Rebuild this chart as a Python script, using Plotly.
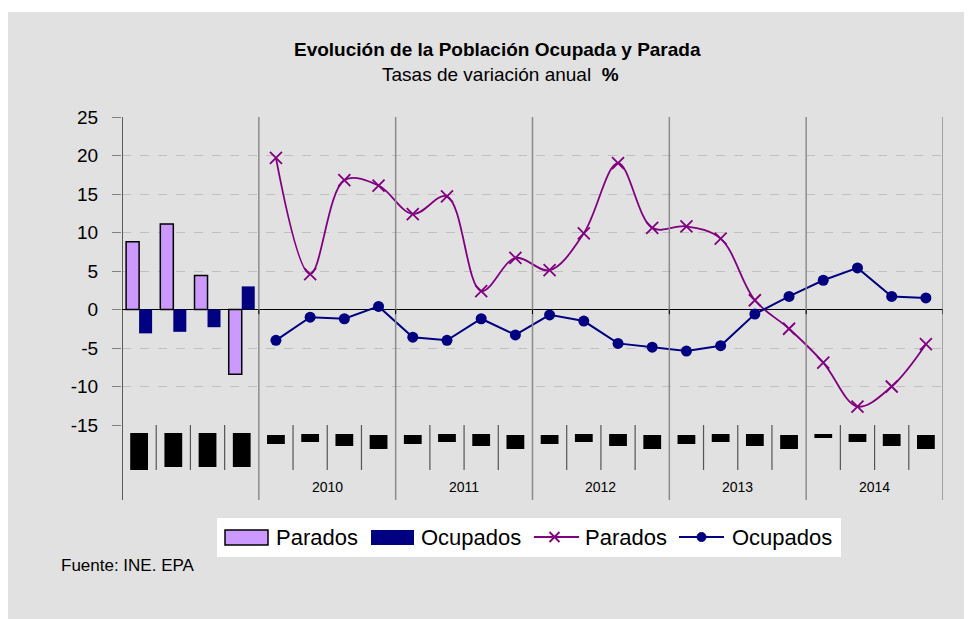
import plotly.graph_objects as go

# quarters: 2009 (bars) + 2010-2014 (lines)
years = ["2009", "2010", "2011", "2012", "2013", "2014"]
quarters = ["I", "II", "III", "IV"]

# 2009 - bars
bar_parados = [8.8, 11.1, 4.4, -8.4]
bar_ocupados = [-3.1, -2.9, -2.3, 3.0]

# 2010-2014 - lines
line_parados = [19.7, 4.6, 16.8, 16.1,
                12.4, 14.7, 2.4, 6.7,
                5.1, 9.9, 19.0, 10.6,
                10.8, 9.2, 1.2, -2.5,
                -6.9, -12.6, -10.0, -4.5]
line_ocupados = [-4.0, -1.0, -1.2, 0.4,
                 -3.6, -4.0, -1.2, -3.3,
                 -0.7, -1.5, -4.4, -4.9,
                 -5.4, -4.7, -0.6, 1.7,
                 3.8, 5.4, 1.7, 1.5]

y_ticks = [-15, -10, -5, 0, 5, 10, 15, 20, 25]
y_labels = ["-15", "-10", "-5", "0", "5", "10", "15", "20", "25"]

n = len(years) * 4
x_bars = list(range(4))
x_lines = list(range(4, n))

FONT = "Arial, Liberation Sans, sans-serif"
PURPLE = "#800080"
NAVY = "#000080"
LILAC = "#cc99ff"

# pixel -> paper helpers (plot area 122..943 x 117..425 in page pixels)
def px(p):
    return (p - 122) / 821

def py(p):
    return (425 - p) / 308

fig = go.Figure()

fig.add_trace(go.Bar(x=x_bars, y=bar_parados, name="Parados",
                     marker=dict(color=LILAC, line=dict(color="black", width=1.5))))
fig.add_trace(go.Bar(x=x_bars, y=bar_ocupados, name="Ocupados",
                     marker=dict(color=NAVY, line=dict(color=NAVY, width=0))))
fig.add_trace(go.Scatter(x=x_lines, y=line_parados, name="Parados", mode="lines+markers",
                         line=dict(color=PURPLE, width=1.8, shape="spline", smoothing=1),
                         marker=dict(symbol="x-thin", size=12, line=dict(color=PURPLE, width=1.8))))
fig.add_trace(go.Scatter(x=x_lines, y=line_ocupados, name="Ocupados", mode="lines+markers",
                         line=dict(color=NAVY, width=2),
                         marker=dict(symbol="circle", size=11, color=NAVY)))

shapes = []
# gray page background
shapes.append(dict(type="rect", xref="paper", yref="paper", x0=px(0), x1=px(990), y0=py(640), y1=py(12),
                   fillcolor="#e1e1e1", line=dict(width=0), layer="below"))

# year separators (plot area + label band)
for k in range(1, len(years) + 1):
    xs = 4 * k - 0.5
    shapes.append(dict(type="line", xref="x", yref="paper", x0=xs, x1=xs, y0=py(117), y1=py(500),
                       line=dict(color="#8c8c8c", width=1.5)))
    shapes.append(dict(type="line", xref="x", yref="y", x0=xs, x1=xs, y0=0, y1=-0.6,
                       line=dict(color="black", width=1)))
# quarter separators
for i in range(1, n):
    if i % 4:
        shapes.append(dict(type="line", xref="x", yref="paper", x0=i - 0.5, x1=i - 0.5,
                           y0=py(425), y1=py(470), line=dict(color="#555555", width=1.2)))
# left axis line
shapes.append(dict(type="line", xref="x", yref="paper", x0=-0.5, x1=-0.5, y0=py(117), y1=py(500),
                   line=dict(color="black", width=1.2)))

# quarter labels (rendered as solid blocks in the original)
blk_top = [433, 433, 433, 433] + [435, 434, 434, 435] * 4 + [434, 434, 434, 435]
blk_bot = [470, 467, 467, 467] + [444, 442, 446, 449] * 4 + [438, 442, 446, 449]
for i in range(n):
    shapes.append(dict(type="rect", xref="x", yref="paper", x0=i - 0.26, x1=i + 0.26,
                       y0=py(blk_bot[i]), y1=py(blk_top[i]), fillcolor="black", line=dict(width=0)))

# hand-made legend
shapes.append(dict(type="rect", xref="paper", yref="paper", x0=px(217), x1=px(841), y0=py(557), y1=py(518),
                   fillcolor="white", line=dict(width=0)))
shapes.append(dict(type="rect", xref="paper", yref="paper", x0=px(225), x1=px(268), y0=py(545), y1=py(530),
                   fillcolor=LILAC, line=dict(color="black", width=1.5)))
shapes.append(dict(type="rect", xref="paper", yref="paper", x0=px(371), x1=px(414), y0=py(545), y1=py(530),
                   fillcolor=NAVY, line=dict(width=0)))
shapes.append(dict(type="line", xref="paper", yref="paper", x0=px(534), x1=px(579), y0=py(537), y1=py(537),
                   line=dict(color=PURPLE, width=1.8)))
shapes.append(dict(type="path", xref="paper", yref="paper",
                   path="M{a},{b} L{c},{d} M{a},{d} L{c},{b}".format(a=px(549.5), c=px(559.5), b=py(532), d=py(542)),
                   line=dict(color=PURPLE, width=1.8)))
shapes.append(dict(type="line", xref="paper", yref="paper", x0=px(679), x1=px(724), y0=py(537), y1=py(537),
                   line=dict(color=NAVY, width=2)))
shapes.append(dict(type="circle", xref="paper", yref="paper", x0=px(697), x1=px(706), y0=py(541.5), y1=py(532.5),
                   fillcolor=NAVY, line=dict(color=NAVY, width=1)))

annotations = [
    dict(text="<b>Evolución de la Población Ocupada y Parada</b>", x=px(497), y=py(49),
         xref="paper", yref="paper", showarrow=False, font=dict(size=19, color="black")),
    dict(text="Tasas de variación anual  <b>%</b>", x=px(500), y=py(74),
         xref="paper", yref="paper", showarrow=False, font=dict(size=19, color="black")),
    dict(text="Fuente: INE. EPA", x=px(59), y=py(565), xanchor="left",
         xref="paper", yref="paper", showarrow=False, font=dict(size=17, color="black")),
]
for k, yr in enumerate(years[1:], start=1):
    annotations.append(dict(text=yr, x=4 * k + 1.5, y=py(487), xref="x", yref="paper",
                            showarrow=False, font=dict(size=14, color="black")))
for xt, t in [(274, "Parados"), (419, "Ocupados"), (583, "Parados"), (730, "Ocupados")]:
    annotations.append(dict(text=t, x=px(xt), y=py(537), xanchor="left", xref="paper", yref="paper",
                            showarrow=False, font=dict(size=22, color="black")))
for a in annotations:
    a["yanchor"] = "middle"
    a.setdefault("xanchor", "center")

fig.update_layout(
    width=972, height=619,
    margin=dict(l=114, r=37, t=109, b=202),
    paper_bgcolor="white", plot_bgcolor="white",
    font=dict(family=FONT, color="black"),
    barmode="group", bargap=0.24, bargroupgap=0,
    shapes=shapes, annotations=annotations,
    showlegend=False,
)
fig.update_xaxes(range=[-0.5, n - 0.5], showticklabels=False, showgrid=False,
                 zeroline=False, showline=False, ticks="")
fig.update_yaxes(range=[-15, 25], tickvals=y_ticks, ticktext=y_labels,
                 showgrid=True, gridcolor="#c0c0c0", griddash="dash",
                 gridwidth=1, zeroline=True, zerolinecolor="black", zerolinewidth=1.2,
                 ticks="outside", ticklen=9, tickcolor="#808080", showline=False,
                 ticklabelstandoff=10, tickfont=dict(size=19), fixedrange=True)

fig.write_html("out.html")
